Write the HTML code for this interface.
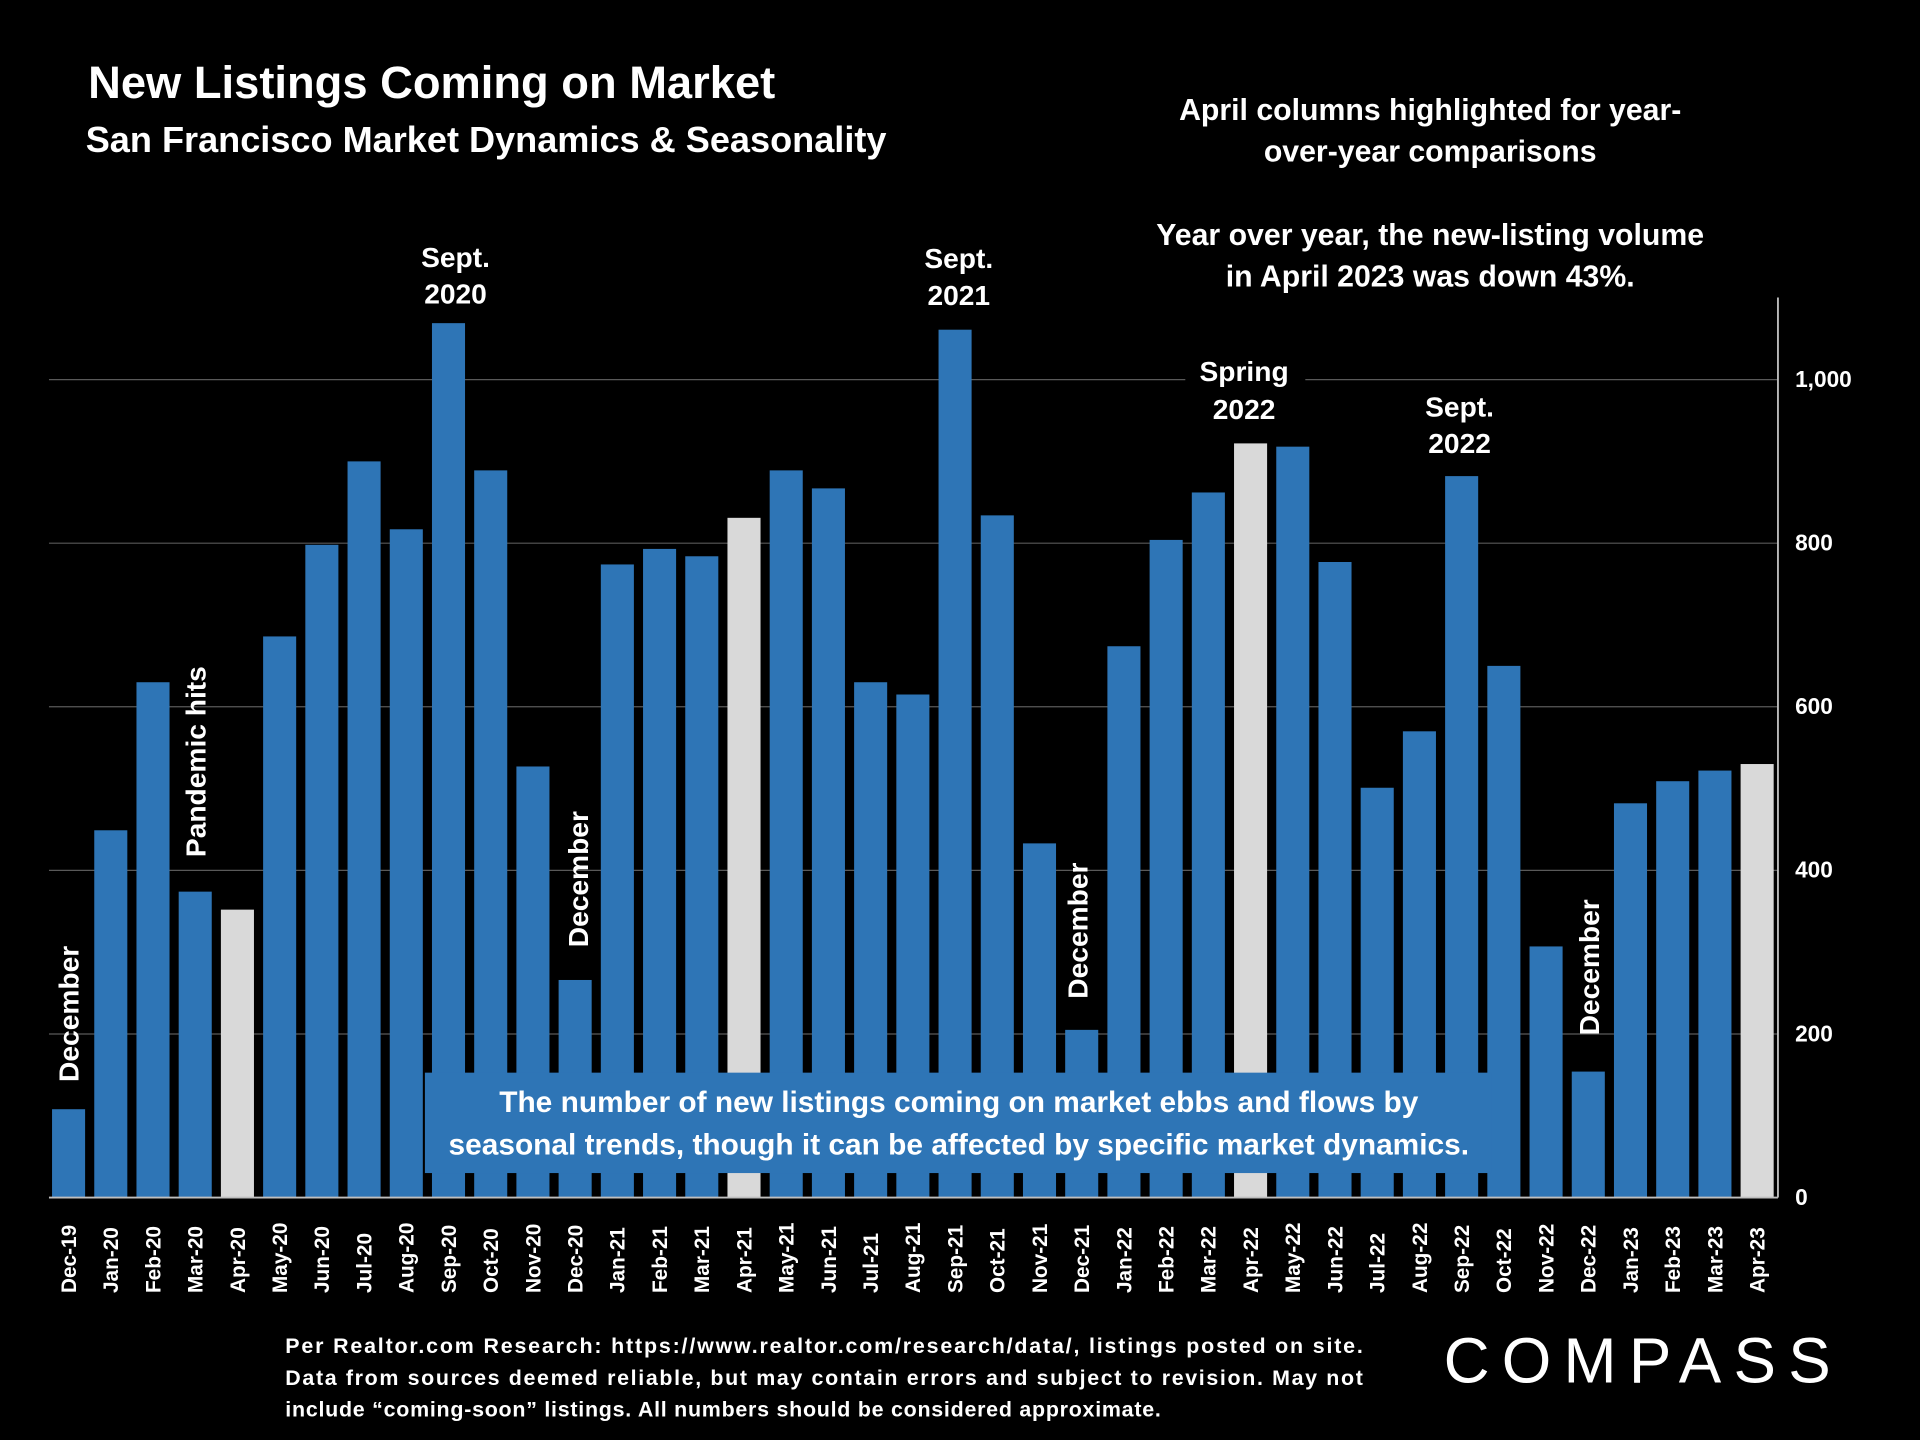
<!DOCTYPE html>
<html><head><meta charset="utf-8"><style>
html,body{margin:0;padding:0;background:#000;}
svg{display:block;font-family:"Liberation Sans",sans-serif;font-weight:bold;}
</style></head><body>
<svg id="chart" width="1920" height="1440" viewBox="0 0 1568 1176" xmlns="http://www.w3.org/2000/svg">
<rect width="1568" height="1176" fill="#000"/>
<text x="72" y="80" fill="#fff" font-size="37">New Listings Coming on Market</text>
<text x="70" y="124" fill="#fff" font-size="29.5">San Francisco Market Dynamics &amp; Seasonality</text>
<g fill="#fff" font-size="24.7" text-anchor="middle">
<text x="1168" y="98">April columns highlighted for year-</text>
<text x="1168" y="132">over-year comparisons</text>
<text x="1168" y="200">Year over year, the new-listing volume</text>
<text x="1168" y="234">in April 2023 was down 43%.</text>
</g>
<g id="grid"></g>
<g id="bars"></g>
<g id="labels"></g>
<line x1="1452" y1="243" x2="1452" y2="978" stroke="#bfbfbf" stroke-width="1.5"/>
<line x1="40" y1="978" x2="1452" y2="978" stroke="#bfbfbf" stroke-width="1.5"/>
<g id="yticks" fill="#fff" font-size="18.5"></g>
<g id="xticks" fill="#fff" font-size="17"></g>
<g id="annotations" fill="#fff" font-size="23" text-anchor="middle"></g>
<rect x="347" y="876" width="871" height="82" fill="#2e75b6"/>
<g fill="#fff" font-size="24.4" text-anchor="middle">
<text x="783" y="908">The number of new listings coming on market ebbs and flows by</text>
<text x="783" y="943">seasonal trends, though it can be affected by specific market dynamics.</text>
</g>
<g fill="#fff" font-size="17.5">
<text x="233" y="1105" textLength="880" lengthAdjust="spacing">Per Realtor.com Research:  https://www.realtor.com/research/data/, listings posted on site.</text>
<text x="233" y="1131" textLength="880" lengthAdjust="spacing">Data from sources deemed reliable, but may contain errors and subject to revision. May not</text>
<text x="233" y="1157" textLength="715" lengthAdjust="spacing">include “coming-soon” listings. All numbers should be considered approximate.</text>
</g>
<text x="1342" y="1129" fill="#fff" font-size="52" font-weight="normal" text-anchor="middle" letter-spacing="10">COMPASS</text>
</svg>
<script>
const categories=["Dec-19","Jan-20","Feb-20","Mar-20","Apr-20","May-20","Jun-20","Jul-20","Aug-20","Sep-20","Oct-20","Nov-20","Dec-20","Jan-21","Feb-21","Mar-21","Apr-21","May-21","Jun-21","Jul-21","Aug-21","Sep-21","Oct-21","Nov-21","Dec-21","Jan-22","Feb-22","Mar-22","Apr-22","May-22","Jun-22","Jul-22","Aug-22","Sep-22","Oct-22","Nov-22","Dec-22","Jan-23","Feb-23","Mar-23","Apr-23"];
const listings=[108,449,630,374,352,686,798,900,817,1069,889,527,266,774,793,784,831,889,867,630,615,1061,834,433,205,674,804,862,922,918,777,501,570,882,650,307,154,482,509,522,530];
const yTicks=[0,200,400,600,800,1000];
const yTickLabels=["0","200","400","600","800","1,000"];
const NS="http://www.w3.org/2000/svg";
const x0=56,step=34.475,bw=27;
function xScale(i){return x0+i*step;}
function yScale(v){return 978-v*0.668;}
function mk(tag,attrs,parent){const e=document.createElementNS(NS,tag);for(const k in attrs)e.setAttribute(k,attrs[k]);document.getElementById(parent).appendChild(e);return e;}
yTicks.forEach((t,i)=>{
 if(t>0){const l=mk('line',{x1:40,x2:1452,y1:yScale(t),y2:yScale(t),stroke:'#595959','stroke-width':1},'grid');
 
 }
 const tx=mk('text',{x:1466,y:yScale(t)+6},'yticks');tx.textContent=yTickLabels[i];
 
 
});
categories.forEach((c,i)=>{
 const isApr=c.startsWith('Apr');
 const r=mk('rect',{x:xScale(i)-bw/2,y:yScale(listings[i]),width:bw,height:listings[i]*0.668,fill:isApr?'#d9d9d9':'#2e75b6'},'bars');
 
 
 const t=mk('text',{transform:`translate(${xScale(i)+6},${1056}) rotate(-90)`},'xticks');t.textContent=c;
 
 
});
const ann=[["Sept.",372,218],["2020",372,248],["Sept.",783,219],["2021",783,249],["Sept.",1192,340],["2022",1192,370]];
ann.forEach(a=>{const t=mk('text',{x:a[1],y:a[2]},'annotations');t.textContent=a[0];
 
 });
mk('rect',{x:968,y:286,width:98,height:64,fill:'#000'},'annotations');
[["Spring",1016,311],["2022",1016,342]].forEach(a=>{const t=mk('text',{x:a[1],y:a[2]},'annotations');t.textContent=a[0];
 
 });
const rot=[["December",56,828],["Pandemic hits",160,622],["December",472,718],["December",880,760],["December",1298,790]];
rot.forEach(a=>{const t=mk('text',{transform:`translate(${a[1]+8},${a[2]}) rotate(-90)`},'annotations');t.textContent=a[0];
 
 });
</script>
</body></html>
